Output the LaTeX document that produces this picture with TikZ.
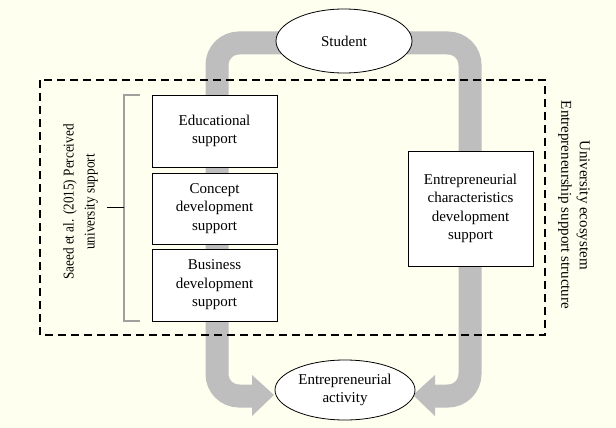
\documentclass[tikz,border=0pt]{standalone}
\usepackage{fontspec}
\setmainfont{Liberation Serif}
\usetikzlibrary{shapes.geometric}
\definecolor{bgc}{HTML}{FFFFF0}
\definecolor{bandc}{HTML}{BEBEBE}
\definecolor{brk}{HTML}{A0A0A0}
\begin{document}
\begin{tikzpicture}[x=1pt,y=-1pt,
  txt/.style={font=\fontsize{15}{18.5}\selectfont, align=center},
  boxn/.style={txt, draw, fill=white, line width=0.8pt, minimum width=125pt, inner sep=0pt},
  ell/.style={txt, ellipse, draw, fill=white, line width=0.8pt, inner sep=0pt},
  band/.style={draw=bandc, line width=23pt, rounded corners=22pt},
  tip/.style={fill=bandc, draw=none}]
\fill[bgc] (0,0) rectangle (616,428);
\useasboundingbox (0,0) rectangle (616,428);
% band
\draw[band] (253,396) -- (217,396) -- (217,43) -- (470,43) -- (470,396) -- (434,396);
\fill[tip] (252,375) -- (274,395) -- (252,416) -- cycle;
\fill[tip] (435,375) -- (413,395) -- (435,416) -- cycle;
% dashed frame
\draw[line width=1.6pt, dash pattern=on 8pt off 5pt] (40,80) rectangle (545,335);
% nodes
\node[ell, minimum width=136pt, minimum height=64pt] (stu) at (344,41) {Student};
\node[ell, minimum width=140pt, minimum height=60pt] (act) at (345,390) {Entrepreneurial\\activity};
\node[boxn, minimum height=72pt] (edu) at (214.5,131) {Educational\\support};
\node[boxn, minimum height=71pt] (con) at (214.5,208.5) {Concept\\development\\support};
\node[boxn, minimum height=72pt] (bus) at (214.5,285) {Business\\development\\support};
\node[boxn, minimum height=115pt] (ech) at (470.5,208.5) {Entrepreneurial\\characteristics\\development\\support};
% bracket
\draw[brk, line width=1.2pt] (140,95) -- (124,95) -- (124,321) -- (140,321);
\coordinate (bm) at (124,207);
\node[font=\fontsize{15}{21}\selectfont, rotate=90, inner sep=0pt] (saeed) at (80,202)
  {\scalebox{0.88}[1]{\begin{tabular}{@{}c@{}}Saeed et al. (2015) Perceived\\university support\end{tabular}}};
\draw[line width=0.8pt] (bm) -- (107,207);
\node[txt, rotate=-90] (uni) at (574,205) {University ecosystem\\Entrepreneurship support structure};
\end{tikzpicture}
\end{document}
